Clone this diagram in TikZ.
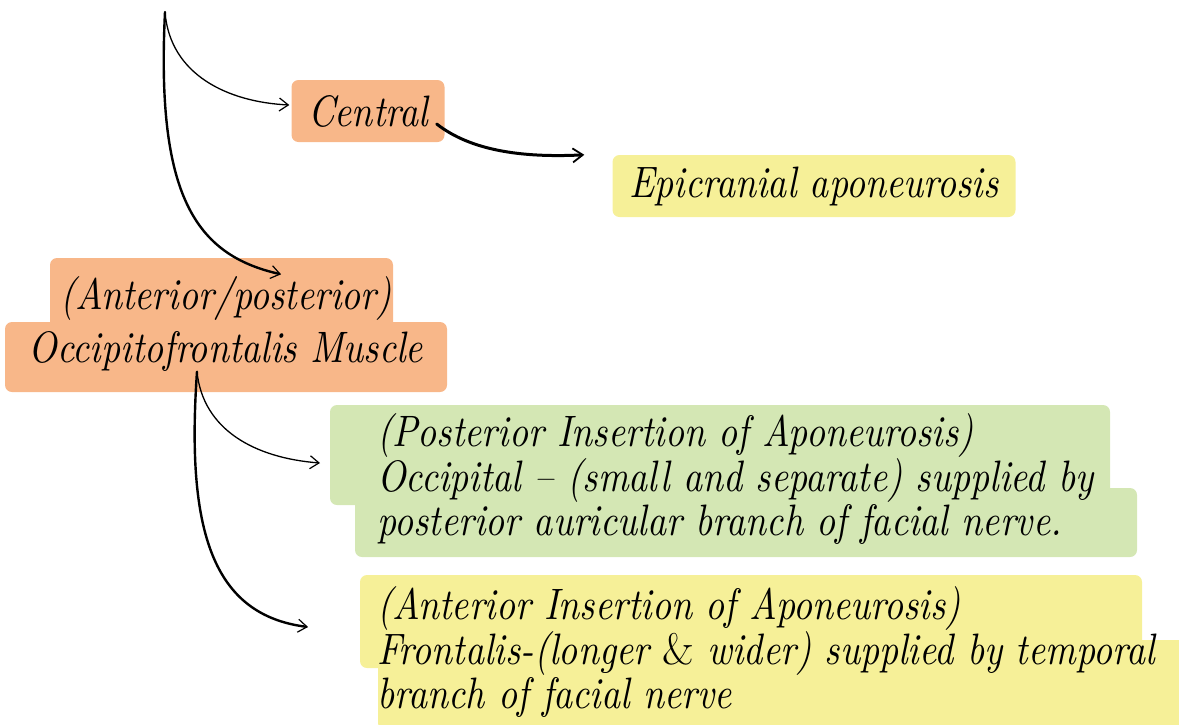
\documentclass[tikz,border=0pt]{standalone}
\usepackage{fontspec}
\usetikzlibrary{arrows.meta,backgrounds}
\newfontfamily\hand{lmroman10-italic.otf}[FakeStretch=0.85]
\definecolor{peach}{RGB}{248,183,137}
\definecolor{lemon}{RGB}{246,240,152}
\definecolor{sage}{RGB}{212,231,180}
\begin{document}
\begin{tikzpicture}[x=1pt,y=-1pt,
  txt/.style={font=\hand\fontsize{44}{40}\selectfont, inner sep=0pt, text=black},
  chip/.style={txt, rounded corners=7pt},
  hl/.style={rounded corners=7pt},
  thinlink/.style={line width=1.3pt, line cap=round,
    -{Straight Barb[length=9pt,width=13pt,line width=1.2pt]}},
  longlink/.style={line width=2.4pt, line cap=round,
    -{Straight Barb[length=9pt,width=13pt,line width=1.2pt]}},
  boldlink/.style={line width=3pt, line cap=round,
    -{Straight Barb[length=10pt,width=14pt,line width=1.8pt]}}]
\useasboundingbox (0,0) rectangle (1179,724);

% boxed labels
\node[chip, fill=peach, minimum width=153pt, minimum height=62pt] (central) at (368,111) {Central};
\node[chip, fill=lemon, minimum width=403pt, minimum height=62pt] (epi) at (814,186) {Epicranial aponeurosis};
\node[txt, align=center, font=\hand\fontsize{44}{53}\selectfont] (occ) at (226,324)
  {(Anterior/posterior)\\Occipitofrontalis Muscle};
\node[txt, align=left, anchor=west] (post) at (377,479)
  {(Posterior Insertion of Aponeurosis)\\Occipital – (small and separate) supplied by\\posterior auricular branch of facial nerve.};
\node[txt, align=left, anchor=west] (ant) at (377,652)
  {(Anterior Insertion of Aponeurosis)\\Frontalis-(longer {\rmfamily\upshape\&} wider) supplied by temporal\\branch of facial nerve};

% highlighter patches behind the multi-line labels
\begin{scope}[on background layer]
  \fill[peach, hl] (50,258) rectangle (393,330);
  \fill[peach, hl] (5,322) rectangle (447,392);
  \fill[sage, hl] (330,405) rectangle (1110,505);
  \fill[sage, hl] (355,488) rectangle (1137,557);
  \fill[lemon, hl] (360,575) rectangle (1142,668);
  \fill[lemon, hl] (378,640) rectangle (1185,730);
\end{scope}

% connectors
\coordinate (root) at (165,12);
\coordinate (fork) at ([xshift=-29pt]occ.south);
\draw[thinlink] (root) .. controls (170,75) and (228,102) .. ([xshift=-2pt,yshift=6pt]central.west);
\draw[longlink] (root) .. controls (156,195) and (195,255) .. ([xshift=55pt,yshift=2pt]occ.north);
\draw[boldlink] ([xshift=-8pt,yshift=-13pt]central.east) .. controls (470,150) and (520,158) .. ([xshift=-28pt]epi.north west);
\draw[thinlink] (fork) .. controls (203,430) and (255,458) .. ([xshift=-57pt,yshift=16pt]post.west);
\draw[longlink] (fork) .. controls (186,530) and (212,615) .. ([xshift=-69pt,yshift=25pt]ant.west);
\end{tikzpicture}
\end{document}
